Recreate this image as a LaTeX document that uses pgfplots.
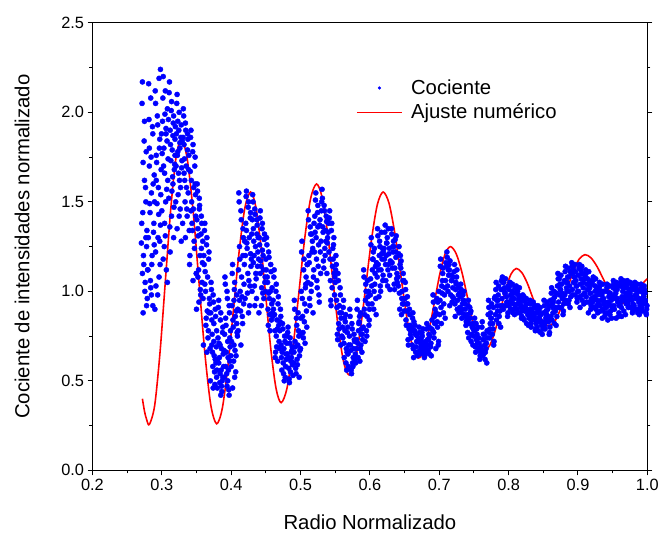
\documentclass[border=0pt]{standalone}
\usepackage{fontspec}
\setmainfont{Liberation Sans}
\usepackage{pgfplots}
\pgfplotsset{compat=1.18}
\definecolor{ptblue}{RGB}{0,0,255}
\definecolor{fitred}{RGB}{255,0,0}
\begin{document}
\begin{tikzpicture}
\begin{axis}[
 name=ax,
 scale only axis, width=558bp, height=450bp,
 xmin=0.2, xmax=1.0, ymin=0, ymax=2.5,
 xtick={0.2,0.3,0.4,0.5,0.6,0.7,0.8,0.9,1.0},
 ytick={0,0.5,1,1.5,2,2.5},
 minor x tick num=1, minor y tick num=1,
 xtick pos=left, ytick pos=both, yticklabel pos=left,
 tick align=outside,
 major tick length=5bp, minor tick length=3bp,
 every tick/.style={black, line width=1bp},
 axis line style={line width=1.2bp},
 /pgf/number format/assume math mode=true,
 xticklabel style={font=\fontsize{16.5}{18}\selectfont, /pgf/number format/fixed, /pgf/number format/fixed zerofill, /pgf/number format/precision=1},
 yticklabel style={font=\fontsize{16.5}{18}\selectfont, /pgf/number format/fixed, /pgf/number format/fixed zerofill, /pgf/number format/precision=1},
 xlabel={Radio Normalizado}, ylabel={Cociente de intensidades normalizado},
 label style={font=\fontsize{20.5}{24}\selectfont},
 xlabel style={at={(axis description cs:0.5,-0.117)}, anchor=center},
 ylabel style={at={(axis description cs:-0.127,0.5)}, anchor=center},
 legend style={draw=none, fill=none, at={(axis description cs:0.47,0.882)}, anchor=north west, font=\fontsize{20.5}{24}\selectfont, row sep=4bp},
 legend cell align=left,
]
\addplot[only marks, mark=*, mark size=2.6bp, color=ptblue,
 legend image code/.code={\path[draw=none,fill=none] (0cm,-0.05cm) rectangle (1.85cm,0.05cm); \fill[ptblue] (0.8cm,0cm) circle (1.4bp);}]
coordinates {
(0.272,2.17) (0.275,1.95) (0.273,1.72) (0.277,1.50) (0.271,1.38) (0.278,1.25) (0.274,1.15) (0.276,1.05) (0.279,0.96) (0.273,0.88) (0.275,1.62) (0.277,1.30) (0.272,1.10) (0.278,0.92)
(0.281,2.16) (0.284,2.08) (0.287,1.88) (0.282,1.80) (0.289,1.65) (0.285,1.55) (0.283,1.44) (0.288,1.33) (0.286,1.20) (0.280,1.12) (0.284,1.02) (0.287,0.92) (0.282,1.70) (0.289,1.26) (0.285,0.98)
(0.298,2.24) (0.296,2.19) (0.291,2.05) (0.294,1.93) (0.297,1.85) (0.292,1.76) (0.299,1.68) (0.295,1.58) (0.293,1.49) (0.298,1.37) (0.291,1.22) (0.296,1.08) (0.294,0.98) (0.290,0.90) (0.297,1.28) (0.292,1.62)
(0.302,2.20) (0.305,2.12) (0.308,2.02) (0.301,1.95) (0.306,1.88) (0.303,1.80) (0.309,1.74) (0.304,1.66) (0.307,1.57) (0.300,1.45) (0.305,1.31) (0.302,1.18) (0.308,1.05) (0.304,1.38) (0.306,1.91)
(0.311,2.17) (0.314,2.06) (0.317,1.98) (0.312,1.90) (0.319,1.85) (0.315,1.79) (0.313,1.73) (0.318,1.68) (0.316,1.60) (0.310,1.52) (0.314,1.42) (0.317,1.30) (0.312,1.22) (0.316,1.87) (0.319,1.76)
(0.322,2.10) (0.325,2.00) (0.328,1.93) (0.321,1.88) (0.326,1.83) (0.323,1.78) (0.329,1.73) (0.324,1.66) (0.327,1.58) (0.320,1.50) (0.325,1.42) (0.322,1.35) (0.328,1.28) (0.326,1.80) (0.323,1.95)
(0.331,2.02) (0.334,1.94) (0.337,1.88) (0.332,1.82) (0.339,1.76) (0.335,1.70) (0.333,1.62) (0.338,1.55) (0.336,1.46) (0.330,1.38) (0.334,1.30) (0.337,1.79) (0.332,1.66)
(0.342,1.90) (0.345,1.82) (0.348,1.75) (0.341,1.67) (0.346,1.58) (0.343,1.50) (0.349,1.42) (0.344,1.34) (0.347,1.24) (0.340,1.15) (0.345,1.06) (0.342,1.45) (0.348,1.60)
(0.351,1.60) (0.354,1.52) (0.357,1.42) (0.352,1.35) (0.359,1.28) (0.355,1.20) (0.353,1.12) (0.358,1.05) (0.356,0.98) (0.350,0.90) (0.354,1.46) (0.357,1.24) (0.352,1.08)
(0.362,1.38) (0.365,1.30) (0.368,1.22) (0.361,1.15) (0.366,1.08) (0.363,1.00) (0.369,0.93) (0.364,0.85) (0.367,0.78) (0.360,0.70) (0.365,0.66) (0.362,1.04) (0.368,0.88)
(0.371,1.05) (0.374,0.98) (0.377,0.90) (0.372,0.84) (0.379,0.78) (0.375,0.72) (0.373,0.66) (0.378,0.60) (0.376,0.55) (0.370,0.50) (0.374,0.46) (0.377,0.62) (0.372,0.70) (0.379,0.52) (0.375,0.82)
(0.382,0.95) (0.385,0.88) (0.388,0.80) (0.381,0.74) (0.386,0.68) (0.383,0.63) (0.389,0.58) (0.384,0.54) (0.387,0.50) (0.380,0.46) (0.385,0.42) (0.382,0.60) (0.388,0.52) (0.384,0.70) (0.386,0.47)
(0.391,1.08) (0.394,1.00) (0.397,0.92) (0.392,0.85) (0.399,0.78) (0.395,0.72) (0.393,0.66) (0.398,0.61) (0.396,0.56) (0.390,0.52) (0.394,0.47) (0.397,0.42) (0.392,0.58) (0.398,0.74) (0.395,0.50)
(0.402,1.15) (0.405,1.05) (0.408,0.98) (0.401,0.92) (0.406,0.86) (0.403,0.80) (0.409,0.75) (0.404,0.70) (0.407,0.64) (0.400,0.58) (0.405,0.52) (0.402,0.46) (0.408,0.82) (0.404,0.95)
(0.411,1.55) (0.414,1.45) (0.417,1.35) (0.412,1.25) (0.419,1.15) (0.415,1.08) (0.413,1.00) (0.418,0.93) (0.416,0.86) (0.410,0.78) (0.414,0.70) (0.417,1.20) (0.412,0.95)
(0.422,1.56) (0.425,1.50) (0.428,1.44) (0.421,1.38) (0.426,1.30) (0.423,1.24) (0.429,1.18) (0.424,1.10) (0.427,1.03) (0.420,0.96) (0.425,0.88) (0.422,1.34) (0.428,1.21)
(0.431,1.54) (0.434,1.46) (0.437,1.40) (0.432,1.35) (0.439,1.30) (0.435,1.25) (0.433,1.20) (0.438,1.14) (0.436,1.07) (0.430,1.00) (0.434,0.92) (0.437,1.32) (0.432,1.16)
(0.442,1.45) (0.445,1.38) (0.448,1.32) (0.441,1.26) (0.446,1.20) (0.443,1.14) (0.449,1.08) (0.444,1.02) (0.447,0.96) (0.440,0.88) (0.445,1.23) (0.442,1.10)
(0.451,1.30) (0.454,1.22) (0.457,1.15) (0.452,1.08) (0.459,1.02) (0.455,0.96) (0.453,0.90) (0.458,0.84) (0.456,0.78) (0.450,1.18) (0.454,0.99)
(0.462,1.12) (0.465,1.04) (0.468,0.97) (0.461,0.90) (0.466,0.84) (0.463,0.78) (0.469,0.72) (0.464,0.66) (0.467,0.61) (0.460,0.86) (0.465,0.75)
(0.471,0.90) (0.474,0.82) (0.477,0.75) (0.472,0.70) (0.479,0.65) (0.475,0.60) (0.473,0.56) (0.478,0.52) (0.476,0.68) (0.470,0.78)
(0.482,0.80) (0.485,0.74) (0.488,0.69) (0.481,0.65) (0.486,0.61) (0.483,0.57) (0.489,0.53) (0.484,0.49) (0.487,0.63) (0.480,0.71)
(0.491,0.95) (0.494,0.85) (0.497,0.78) (0.492,0.72) (0.499,0.67) (0.495,0.62) (0.493,0.57) (0.498,0.52) (0.496,0.70) (0.490,0.60)
(0.502,1.28) (0.505,1.18) (0.508,1.08) (0.501,1.00) (0.506,0.93) (0.503,0.86) (0.509,0.80) (0.504,0.74) (0.507,1.02) (0.500,0.68)
(0.511,1.45) (0.514,1.36) (0.517,1.28) (0.512,1.20) (0.519,1.12) (0.515,1.04) (0.513,0.96) (0.518,0.88) (0.516,1.32) (0.510,1.15)
(0.522,1.55) (0.525,1.48) (0.528,1.40) (0.521,1.33) (0.526,1.26) (0.523,1.18) (0.529,1.10) (0.524,1.02) (0.527,0.94) (0.520,1.22) (0.525,1.36)
(0.531,1.57) (0.534,1.48) (0.537,1.42) (0.532,1.36) (0.539,1.30) (0.535,1.24) (0.533,1.17) (0.538,1.10) (0.536,1.34) (0.530,1.45)
(0.542,1.45) (0.545,1.38) (0.548,1.30) (0.541,1.22) (0.546,1.14) (0.543,1.06) (0.549,0.98) (0.544,0.92) (0.547,1.18) (0.540,1.33)
(0.551,1.20) (0.554,1.10) (0.557,1.02) (0.552,0.95) (0.559,0.88) (0.555,0.82) (0.553,0.76) (0.558,0.70) (0.556,0.92) (0.550,1.05)
(0.562,0.95) (0.565,0.87) (0.568,0.80) (0.561,0.74) (0.566,0.68) (0.563,0.63) (0.569,0.58) (0.564,0.78) (0.567,0.66)
(0.571,0.90) (0.574,0.82) (0.577,0.76) (0.572,0.70) (0.579,0.65) (0.575,0.60) (0.573,0.56) (0.578,0.72) (0.576,0.63)
(0.582,0.95) (0.585,0.86) (0.588,0.79) (0.581,0.73) (0.586,0.68) (0.583,0.63) (0.589,0.76) (0.584,0.82) (0.587,0.70)
(0.591,1.12) (0.594,1.04) (0.597,0.97) (0.592,0.90) (0.599,0.84) (0.595,0.78) (0.593,0.72) (0.598,1.00) (0.596,0.86)
(0.602,1.30) (0.605,1.22) (0.608,1.14) (0.601,1.07) (0.606,1.00) (0.603,0.93) (0.609,0.87) (0.604,1.18) (0.607,1.04)
(0.611,1.35) (0.614,1.28) (0.617,1.21) (0.612,1.15) (0.619,1.09) (0.615,1.03) (0.613,0.97) (0.618,1.24) (0.616,1.12)
(0.622,1.37) (0.625,1.30) (0.628,1.24) (0.621,1.18) (0.626,1.12) (0.623,1.06) (0.629,1.01) (0.624,1.27) (0.627,1.15)
(0.631,1.35) (0.634,1.28) (0.637,1.22) (0.632,1.16) (0.639,1.10) (0.635,1.04) (0.633,1.25) (0.638,1.31) (0.636,1.13)
(0.642,1.25) (0.645,1.17) (0.648,1.10) (0.641,1.03) (0.646,0.96) (0.643,0.90) (0.649,1.06) (0.644,1.20) (0.647,0.93)
(0.651,1.05) (0.654,0.97) (0.657,0.90) (0.652,0.84) (0.659,0.78) (0.655,0.73) (0.653,0.93) (0.658,0.81)
(0.662,0.88) (0.665,0.81) (0.668,0.75) (0.661,0.70) (0.666,0.66) (0.663,0.63) (0.669,0.72) (0.664,0.78)
(0.671,0.80) (0.674,0.74) (0.677,0.70) (0.672,0.67) (0.679,0.64) (0.675,0.77) (0.673,0.71) (0.678,0.66)
(0.682,0.82) (0.685,0.76) (0.688,0.71) (0.681,0.68) (0.686,0.65) (0.683,0.73) (0.689,0.79) (0.684,0.67)
(0.691,0.98) (0.694,0.90) (0.697,0.83) (0.692,0.77) (0.699,0.72) (0.695,0.68) (0.693,0.86) (0.698,0.94)
(0.702,1.18) (0.705,1.10) (0.708,1.02) (0.701,0.95) (0.706,0.88) (0.703,0.82) (0.709,1.06) (0.704,0.99)
(0.711,1.22) (0.714,1.15) (0.717,1.09) (0.712,1.03) (0.719,0.97) (0.715,0.92) (0.713,1.12) (0.718,1.06)
(0.722,1.15) (0.725,1.08) (0.728,1.02) (0.721,0.96) (0.726,0.90) (0.723,0.86) (0.729,0.99) (0.724,1.05)
(0.731,1.04) (0.734,0.98) (0.737,0.93) (0.732,0.88) (0.739,0.83) (0.735,0.95) (0.733,0.90) (0.738,0.86)
(0.742,0.95) (0.745,0.88) (0.748,0.82) (0.741,0.77) (0.746,0.72) (0.743,0.85) (0.749,0.79) (0.744,0.91)
(0.751,0.85) (0.754,0.79) (0.757,0.74) (0.752,0.69) (0.759,0.64) (0.755,0.71) (0.753,0.82) (0.758,0.67)
(0.762,0.83) (0.765,0.76) (0.768,0.71) (0.761,0.67) (0.766,0.62) (0.763,0.73) (0.769,0.78) (0.764,0.65)
(0.771,0.95) (0.774,0.88) (0.777,0.82) (0.772,0.77) (0.779,0.72) (0.775,0.85) (0.773,0.79) (0.778,0.91)
(0.782,1.05) (0.785,0.98) (0.788,0.92) (0.781,0.87) (0.786,0.82) (0.783,0.95) (0.789,1.01) (0.784,0.89)
(0.791,1.08) (0.794,1.02) (0.797,0.97) (0.792,0.92) (0.799,0.88) (0.795,0.99) (0.793,1.05) (0.798,0.94)
(0.802,1.05) (0.805,1.00) (0.808,0.96) (0.801,0.92) (0.806,0.88) (0.803,0.98) (0.809,1.02) (0.804,0.94) (0.807,0.90)
(0.811,1.03) (0.814,0.98) (0.817,0.94) (0.812,0.90) (0.819,0.86) (0.815,0.96) (0.813,1.00) (0.818,0.92) (0.816,0.88)
(0.822,0.97) (0.825,0.93) (0.828,0.89) (0.821,0.85) (0.826,0.82) (0.823,0.91) (0.829,0.87) (0.824,0.95)
(0.831,0.95) (0.834,0.90) (0.837,0.86) (0.832,0.82) (0.839,0.79) (0.835,0.88) (0.833,0.84) (0.838,0.92)
(0.842,0.92) (0.845,0.87) (0.848,0.83) (0.841,0.80) (0.846,0.77) (0.843,0.85) (0.849,0.81) (0.844,0.89)
(0.851,0.95) (0.854,0.89) (0.857,0.85) (0.852,0.81) (0.859,0.77) (0.855,0.87) (0.853,0.83) (0.858,0.92)
(0.862,1.02) (0.865,0.96) (0.868,0.91) (0.861,0.86) (0.866,0.82) (0.863,0.93) (0.869,0.99) (0.864,0.88)
(0.871,1.10) (0.874,1.04) (0.877,0.99) (0.872,0.94) (0.879,0.89) (0.875,1.01) (0.873,1.07) (0.878,0.96) (0.876,0.91)
(0.882,1.14) (0.885,1.08) (0.888,1.03) (0.881,0.98) (0.886,0.93) (0.883,1.05) (0.889,1.11) (0.884,1.00) (0.887,0.95)
(0.891,1.16) (0.894,1.11) (0.897,1.06) (0.892,1.01) (0.899,0.96) (0.895,1.08) (0.893,1.13) (0.898,1.03) (0.896,0.98)
(0.902,1.15) (0.905,1.10) (0.908,1.05) (0.901,1.00) (0.906,0.95) (0.903,0.91) (0.909,1.07) (0.904,1.12) (0.907,0.98)
(0.911,1.12) (0.914,1.07) (0.917,1.02) (0.912,0.97) (0.919,0.92) (0.915,0.88) (0.913,1.04) (0.918,0.99) (0.916,0.94)
(0.922,1.08) (0.925,1.03) (0.928,0.98) (0.921,0.94) (0.926,0.90) (0.923,0.86) (0.929,1.00) (0.924,0.96) (0.927,0.92)
(0.931,1.05) (0.934,1.00) (0.937,0.96) (0.932,0.92) (0.939,0.88) (0.935,0.85) (0.933,0.98) (0.938,0.94) (0.936,0.90)
(0.942,1.04) (0.945,0.99) (0.948,0.95) (0.941,0.91) (0.946,0.87) (0.943,0.84) (0.949,0.97) (0.944,0.93) (0.947,0.89)
(0.951,1.06) (0.954,1.01) (0.957,0.96) (0.952,0.92) (0.959,0.88) (0.955,0.85) (0.953,0.98) (0.958,0.94) (0.956,1.03)
(0.962,1.07) (0.965,1.02) (0.968,0.97) (0.961,0.93) (0.966,0.89) (0.963,0.86) (0.969,0.99) (0.964,0.95) (0.967,1.04)
(0.971,1.06) (0.974,1.01) (0.977,0.97) (0.972,0.93) (0.979,0.89) (0.975,0.99) (0.973,0.95) (0.978,1.03) (0.976,0.91)
(0.982,1.05) (0.985,1.00) (0.988,0.96) (0.981,0.92) (0.986,0.88) (0.983,0.98) (0.989,0.94) (0.984,1.02) (0.987,0.90)
(0.991,1.04) (0.994,0.99) (0.997,0.95) (0.992,0.91) (0.998,0.88) (0.995,0.97) (0.993,0.93) (0.996,1.01) (0.999,0.90)
};
\addlegendentry{Cociente}
\addplot[forget plot, only marks, mark=*, mark size=2.6bp, color=ptblue]
coordinates {
(0.2715,2.05) (0.2745,1.84) (0.2765,1.58) (0.2725,1.44) (0.2785,1.34) (0.2735,1.20) (0.2755,1.00) (0.2775,1.78) (0.2705,1.27) (0.2795,1.12)
(0.2815,1.96) (0.2845,1.75) (0.2875,1.60) (0.2825,1.49) (0.2885,1.38) (0.2855,1.15) (0.2835,1.06) (0.2805,1.30) (0.2865,1.92) (0.2895,1.50)
(0.2905,2.12) (0.2935,1.98) (0.2965,1.80) (0.2925,1.72) (0.2985,1.54) (0.2955,1.43) (0.2945,1.30) (0.2975,1.15) (0.2915,1.03) (0.2995,1.88)
(0.3015,2.08) (0.3045,1.99) (0.3075,1.84) (0.3025,1.70) (0.3085,1.62) (0.3055,1.50) (0.3035,1.25) (0.3065,1.12) (0.3005,1.77) (0.3095,1.96)
(0.3105,2.11) (0.3135,2.01) (0.3165,1.94) (0.3125,1.82) (0.3185,1.71) (0.3155,1.64) (0.3145,1.56) (0.3175,1.47) (0.3115,1.36) (0.3195,1.92)
(0.3215,2.05) (0.3245,1.90) (0.3275,1.86) (0.3225,1.76) (0.3285,1.69) (0.3255,1.62) (0.3235,1.54) (0.3265,1.46) (0.3205,1.70) (0.3295,1.84)
(0.3315,1.98) (0.3345,1.90) (0.3375,1.85) (0.3325,1.74) (0.3385,1.68) (0.3355,1.58) (0.3335,1.50) (0.3365,1.42) (0.3305,1.86) (0.3395,1.34)
(0.3415,1.86) (0.3445,1.78) (0.3475,1.70) (0.3425,1.62) (0.3485,1.54) (0.3455,1.46) (0.3435,1.38) (0.3465,1.28) (0.3405,1.20) (0.3495,1.10)
(0.3515,1.56) (0.3545,1.48) (0.3575,1.38) (0.3525,1.31) (0.3585,1.16) (0.3555,1.01) (0.3535,0.94) (0.3565,1.32) (0.3505,1.40) (0.3595,0.96)
(0.3615,1.34) (0.3645,1.26) (0.3675,1.18) (0.3625,1.11) (0.3685,0.96) (0.3655,0.89) (0.3635,0.81) (0.3665,0.74) (0.3605,1.20) (0.3695,0.68)
(0.3715,1.01) (0.3745,0.94) (0.3775,0.86) (0.3725,0.76) (0.3785,0.69) (0.3755,0.64) (0.3735,0.58) (0.3765,0.48) (0.3705,0.88) (0.3795,0.56)
(0.3815,0.91) (0.3845,0.84) (0.3875,0.77) (0.3825,0.71) (0.3885,0.65) (0.3855,0.56) (0.3835,0.49) (0.3865,0.44) (0.3805,0.62) (0.3895,0.67)
(0.3915,1.04) (0.3945,0.96) (0.3975,0.88) (0.3925,0.81) (0.3985,0.69) (0.3955,0.63) (0.3935,0.54) (0.3965,0.45) (0.3905,0.76) (0.3995,0.64)
(0.4015,1.10) (0.4045,1.01) (0.4075,0.89) (0.4025,0.84) (0.4085,0.77) (0.4055,0.67) (0.4035,0.61) (0.4065,0.55) (0.4005,0.72) (0.4095,0.90)
(0.4115,1.50) (0.4145,1.40) (0.4175,1.30) (0.4125,1.18) (0.4185,1.04) (0.4155,0.97) (0.4135,0.89) (0.4165,0.82) (0.4105,1.12) (0.4195,1.28)
(0.4215,1.53) (0.4245,1.47) (0.4275,1.41) (0.4225,1.27) (0.4285,1.14) (0.4255,1.06) (0.4235,0.99) (0.4265,0.92) (0.4205,1.20) (0.4295,1.32)
(0.4315,1.50) (0.4345,1.43) (0.4375,1.37) (0.4325,1.28) (0.4385,1.22) (0.4355,1.10) (0.4335,1.03) (0.4365,0.96) (0.4305,1.40) (0.4395,1.18)
(0.4415,1.41) (0.4445,1.35) (0.4475,1.29) (0.4425,1.17) (0.4485,1.05) (0.4455,0.99) (0.4435,0.92) (0.4465,1.12) (0.4405,1.30) (0.4495,1.00)
(0.4515,1.26) (0.4545,1.19) (0.4575,1.11) (0.4525,1.05) (0.4585,0.93) (0.4555,0.87) (0.4535,0.81) (0.4565,1.00) (0.4505,1.12) (0.4595,0.88)
(0.4615,1.08) (0.4645,1.00) (0.4675,0.93) (0.4625,0.87) (0.4685,0.81) (0.4655,0.69) (0.4635,0.63) (0.4665,0.79) (0.4605,0.95) (0.4695,0.68)
(0.4715,0.86) (0.4745,0.79) (0.4775,0.72) (0.4725,0.63) (0.4785,0.58) (0.4755,0.54) (0.4735,0.66) (0.4765,0.50) (0.4705,0.83) (0.4795,0.62)
(0.4815,0.77) (0.4845,0.71) (0.4875,0.67) (0.4825,0.63) (0.4885,0.59) (0.4855,0.55) (0.4835,0.51) (0.4865,0.66) (0.4805,0.75) (0.4895,0.60)
(0.4915,0.90) (0.4945,0.81) (0.4975,0.75) (0.4925,0.69) (0.4985,0.64) (0.4955,0.59) (0.4935,0.54) (0.4965,0.88) (0.4905,0.66) (0.4995,0.76)
(0.5015,1.22) (0.5045,1.12) (0.5075,1.04) (0.5025,0.96) (0.5085,0.89) (0.5055,0.83) (0.5035,0.77) (0.5065,0.71) (0.5005,0.85) (0.5095,1.15)
(0.5115,1.40) (0.5145,1.32) (0.5175,1.24) (0.5125,1.16) (0.5185,1.08) (0.5155,1.00) (0.5135,0.92) (0.5165,1.22) (0.5105,1.05) (0.5195,1.38)
(0.5215,1.51) (0.5245,1.44) (0.5275,1.37) (0.5225,1.30) (0.5285,1.22) (0.5255,1.14) (0.5235,1.06) (0.5265,0.98) (0.5205,1.42) (0.5295,1.28)
(0.5315,1.52) (0.5345,1.45) (0.5375,1.39) (0.5325,1.33) (0.5385,1.27) (0.5355,1.20) (0.5335,1.13) (0.5365,1.28) (0.5305,1.50) (0.5395,1.40)
(0.5415,1.41) (0.5445,1.34) (0.5475,1.26) (0.5425,1.18) (0.5485,1.10) (0.5455,1.02) (0.5435,0.95) (0.5465,1.24) (0.5405,1.38) (0.5495,1.08)
(0.5515,1.15) (0.5545,1.06) (0.5575,0.98) (0.5525,0.91) (0.5585,0.85) (0.5555,0.79) (0.5535,0.73) (0.5565,0.88) (0.5505,1.12) (0.5595,0.75)
(0.5615,0.91) (0.5645,0.83) (0.5675,0.77) (0.5625,0.71) (0.5685,0.65) (0.5655,0.60) (0.5635,0.85) (0.5665,0.56) (0.5605,0.80) (0.5695,0.70)
(0.5715,0.86) (0.5745,0.79) (0.5775,0.73) (0.5725,0.67) (0.5785,0.62) (0.5755,0.58) (0.5735,0.54) (0.5765,0.68) (0.5705,0.75) (0.5795,0.60)
(0.5815,0.90) (0.5845,0.83) (0.5875,0.76) (0.5825,0.71) (0.5885,0.66) (0.5855,0.61) (0.5835,0.78) (0.5865,0.88) (0.5805,0.68) (0.5895,0.73)
(0.5915,1.08) (0.5945,1.00) (0.5975,0.93) (0.5925,0.87) (0.5985,0.81) (0.5955,0.75) (0.5935,0.95) (0.5965,1.06) (0.5905,0.80) (0.5995,0.90)
(0.6015,1.26) (0.6045,1.18) (0.6075,1.10) (0.6025,1.03) (0.6085,0.96) (0.6055,0.90) (0.6035,1.12) (0.6065,1.24) (0.6005,0.98) (0.6095,1.16)
(0.6115,1.31) (0.6145,1.25) (0.6175,1.18) (0.6125,1.12) (0.6185,1.06) (0.6155,1.00) (0.6135,1.20) (0.6165,1.33) (0.6105,1.08) (0.6195,1.22)
(0.6215,1.33) (0.6245,1.27) (0.6275,1.21) (0.6225,1.15) (0.6285,1.09) (0.6255,1.03) (0.6235,1.20) (0.6265,1.35) (0.6205,1.24) (0.6295,1.17)
(0.6315,1.32) (0.6345,1.25) (0.6375,1.19) (0.6325,1.13) (0.6385,1.07) (0.6355,1.01) (0.6335,1.22) (0.6365,1.29) (0.6305,1.16) (0.6395,1.05)
(0.6415,1.21) (0.6445,1.13) (0.6475,1.06) (0.6425,0.99) (0.6485,0.93) (0.6455,0.87) (0.6435,1.15) (0.6465,1.00) (0.6405,1.08) (0.6495,0.89)
(0.6515,1.01) (0.6545,0.93) (0.6575,0.87) (0.6525,0.81) (0.6585,0.76) (0.6555,0.70) (0.6535,0.89) (0.6565,0.79) (0.6505,0.96) (0.6595,0.74)
(0.6615,0.85) (0.6645,0.78) (0.6675,0.72) (0.6625,0.68) (0.6685,0.64) (0.6655,0.76) (0.6635,0.83) (0.6665,0.69) (0.6605,0.80) (0.6695,0.66)
(0.6715,0.77) (0.6745,0.72) (0.6775,0.68) (0.6725,0.65) (0.6785,0.63) (0.6755,0.75) (0.6735,0.69) (0.6765,0.79) (0.6705,0.73) (0.6795,0.70)
(0.6815,0.79) (0.6845,0.73) (0.6875,0.69) (0.6825,0.66) (0.6885,0.64) (0.6855,0.80) (0.6835,0.70) (0.6865,0.75) (0.6805,0.72) (0.6895,0.84)
(0.6915,0.94) (0.6945,0.87) (0.6975,0.80) (0.6925,0.74) (0.6985,0.70) (0.6955,0.88) (0.6935,0.82) (0.6965,0.96) (0.6905,0.78) (0.6995,1.00)
(0.7015,1.14) (0.7045,1.06) (0.7075,0.98) (0.7025,0.91) (0.7085,0.85) (0.7055,1.13) (0.7035,1.03) (0.7065,0.93) (0.7005,0.87) (0.7095,1.16)
(0.7115,1.19) (0.7145,1.12) (0.7175,1.06) (0.7125,1.00) (0.7185,0.94) (0.7155,1.17) (0.7135,1.09) (0.7165,0.98) (0.7105,1.14) (0.7195,1.02)
(0.7215,1.11) (0.7245,1.04) (0.7275,0.98) (0.7225,0.93) (0.7285,0.88) (0.7255,1.12) (0.7235,1.01) (0.7265,0.95) (0.7205,1.08) (0.7295,0.91)
(0.7315,1.01) (0.7345,0.95) (0.7375,0.90) (0.7325,0.85) (0.7385,0.81) (0.7355,1.00) (0.7335,0.93) (0.7365,0.87) (0.7305,0.97) (0.7395,0.84)
(0.7415,0.92) (0.7445,0.85) (0.7475,0.80) (0.7425,0.74) (0.7485,0.70) (0.7455,0.89) (0.7435,0.82) (0.7465,0.76) (0.7405,0.87) (0.7495,0.75)
(0.7515,0.82) (0.7545,0.76) (0.7575,0.71) (0.7525,0.66) (0.7585,0.62) (0.7555,0.80) (0.7535,0.73) (0.7565,0.68) (0.7505,0.78) (0.7595,0.66)
(0.7615,0.80) (0.7645,0.73) (0.7675,0.68) (0.7625,0.64) (0.7685,0.60) (0.7655,0.70) (0.7635,0.76) (0.7665,0.66) (0.7605,0.69) (0.7695,0.74)
(0.7715,0.91) (0.7745,0.85) (0.7775,0.79) (0.7725,0.74) (0.7785,0.70) (0.7755,0.93) (0.7735,0.82) (0.7765,0.76) (0.7705,0.87) (0.7795,0.96)
(0.7815,1.01) (0.7845,0.95) (0.7875,0.89) (0.7825,0.84) (0.7885,0.80) (0.7855,1.03) (0.7835,0.92) (0.7865,0.86) (0.7805,0.97) (0.7895,1.06)
(0.7915,1.05) (0.7945,0.99) (0.7975,0.94) (0.7925,0.90) (0.7985,0.86) (0.7955,1.07) (0.7935,1.01) (0.7965,0.92) (0.7905,0.96) (0.7995,1.03)
(0.8015,1.03) (0.8045,0.97) (0.8075,0.93) (0.8025,0.90) (0.8085,0.87) (0.8055,1.04) (0.8035,0.95) (0.8065,0.99) (0.8005,1.01) (0.8095,0.91)
(0.8115,1.01) (0.8145,0.95) (0.8175,0.91) (0.8125,0.88) (0.8185,0.85) (0.8155,1.02) (0.8135,0.93) (0.8165,0.97) (0.8105,0.99) (0.8195,0.89)
(0.8215,0.95) (0.8245,0.91) (0.8275,0.87) (0.8225,0.84) (0.8285,0.81) (0.8255,0.96) (0.8235,0.89) (0.8265,0.93) (0.8205,0.98) (0.8295,0.85)
(0.8315,0.93) (0.8345,0.88) (0.8375,0.84) (0.8325,0.80) (0.8385,0.78) (0.8355,0.94) (0.8335,0.86) (0.8365,0.91) (0.8305,0.90) (0.8395,0.82)
(0.8415,0.90) (0.8445,0.85) (0.8475,0.81) (0.8425,0.78) (0.8485,0.76) (0.8455,0.91) (0.8435,0.83) (0.8465,0.87) (0.8405,0.88) (0.8495,0.79)
(0.8515,0.92) (0.8545,0.87) (0.8575,0.83) (0.8525,0.79) (0.8585,0.76) (0.8555,0.94) (0.8535,0.85) (0.8565,0.90) (0.8505,0.88) (0.8595,0.80)
(0.8615,0.99) (0.8645,0.94) (0.8675,0.89) (0.8625,0.84) (0.8685,0.81) (0.8655,1.00) (0.8635,0.91) (0.8665,0.97) (0.8605,0.95) (0.8695,0.86)
(0.8715,1.07) (0.8745,1.01) (0.8775,0.96) (0.8725,0.91) (0.8785,0.87) (0.8755,1.09) (0.8735,0.98) (0.8765,1.04) (0.8705,1.03) (0.8795,0.93)
(0.8815,1.11) (0.8845,1.05) (0.8875,1.00) (0.8825,0.95) (0.8885,0.91) (0.8855,1.13) (0.8835,1.02) (0.8865,1.08) (0.8805,1.06) (0.8895,0.97)
(0.8915,1.14) (0.8945,1.08) (0.8975,1.03) (0.8925,0.98) (0.8985,0.94) (0.8955,1.15) (0.8935,1.05) (0.8965,1.11) (0.8905,1.10) (0.8995,1.00)
(0.9015,1.13) (0.9045,1.07) (0.9075,1.02) (0.9025,0.97) (0.9085,0.93) (0.9055,1.14) (0.9035,1.04) (0.9065,1.10) (0.9005,1.09) (0.9095,0.99)
(0.9115,1.10) (0.9145,1.04) (0.9175,0.99) (0.9125,0.94) (0.9185,0.90) (0.9155,1.11) (0.9135,1.01) (0.9165,1.06) (0.9105,1.08) (0.9195,0.96)
(0.9215,1.06) (0.9245,1.00) (0.9275,0.95) (0.9225,0.91) (0.9285,0.88) (0.9255,1.07) (0.9235,0.97) (0.9265,1.02) (0.9205,1.04) (0.9295,0.93)
(0.9315,1.03) (0.9345,0.98) (0.9375,0.93) (0.9325,0.89) (0.9385,0.86) (0.9355,1.04) (0.9335,0.95) (0.9365,1.00) (0.9305,1.02) (0.9395,0.91)
(0.9415,1.02) (0.9445,0.97) (0.9475,0.92) (0.9425,0.88) (0.9485,0.85) (0.9455,1.03) (0.9435,0.94) (0.9465,0.99) (0.9405,1.00) (0.9495,0.90)
(0.9515,1.04) (0.9545,0.99) (0.9575,0.94) (0.9525,0.90) (0.9585,0.86) (0.9555,1.05) (0.9535,0.96) (0.9565,1.01) (0.9505,1.02) (0.9595,0.92)
(0.9615,1.05) (0.9645,1.00) (0.9675,0.95) (0.9625,0.91) (0.9685,0.87) (0.9655,1.06) (0.9635,0.97) (0.9665,1.02) (0.9605,1.03) (0.9695,0.93)
(0.9715,1.04) (0.9745,0.99) (0.9775,0.95) (0.9725,0.91) (0.9785,0.88) (0.9755,1.05) (0.9735,0.97) (0.9765,1.01) (0.9705,1.02) (0.9795,0.93)
(0.9815,1.03) (0.9845,0.98) (0.9875,0.94) (0.9825,0.90) (0.9885,0.87) (0.9855,1.04) (0.9835,0.96) (0.9865,1.00) (0.9805,1.01) (0.9895,0.92)
(0.9915,1.02) (0.9945,0.97) (0.9975,0.93) (0.9925,0.89) (0.9985,0.87) (0.9955,1.03) (0.9935,0.95) (0.9965,0.99) (0.9905,1.00) (0.9995,0.92)
};
\addplot[smooth, line width=1.6bp, color=fitred,
 legend image code/.code={\path[draw=none,fill=none] (0cm,-0.05cm) rectangle (1.85cm,0.05cm); \draw[fitred, line width=1bp] (0cm,0cm) -- (1.6cm,0cm);}]
coordinates {
(0.272,0.40) (0.275,0.33) (0.278,0.285) (0.282,0.256)
(0.2897,0.363) (0.2973,0.655) (0.305,1.053) (0.3127,1.452) (0.3203,1.743) (0.328,1.85)
(0.3365,1.743) (0.345,1.453) (0.3535,1.055) (0.362,0.657) (0.3705,0.367) (0.379,0.26)
(0.3872,0.347) (0.3953,0.584) (0.4035,0.908) (0.4117,1.231) (0.4198,1.468) (0.428,1.555)
(0.4353,1.476) (0.4427,1.261) (0.450,0.967) (0.4573,0.672) (0.4647,0.457) (0.472,0.378)
(0.4805,0.460) (0.489,0.684) (0.4975,0.989) (0.506,1.295) (0.5145,1.518) (0.523,1.60)
(0.5308,1.529) (0.5387,1.333) (0.5465,1.067) (0.5543,0.800) (0.5622,0.604) (0.570,0.533)
(0.5782,0.602) (0.5863,0.789) (0.5945,1.044) (0.6027,1.300) (0.6108,1.486) (0.619,1.555)
(0.6275,1.493) (0.636,1.323) (0.6445,1.092) (0.653,0.860) (0.6615,0.690) (0.670,0.628)
(0.6777,0.670) (0.6853,0.784) (0.693,0.939) (0.7007,1.095) (0.7083,1.208) (0.716,1.25)
(0.7243,1.211) (0.7327,1.106) (0.741,0.961) (0.7493,0.817) (0.7577,0.711) (0.766,0.672)
(0.7735,0.703) (0.781,0.786) (0.7885,0.900) (0.796,1.014) (0.8035,1.097) (0.811,1.128)
(0.8188,1.106) (0.8267,1.048) (0.8345,0.967) (0.8423,0.887) (0.8502,0.828) (0.858,0.806)
(0.8667,0.833) (0.8753,0.906) (0.884,1.006) (0.8927,1.105) (0.9013,1.178) (0.910,1.205)
(0.9188,1.187) (0.9277,1.137) (0.9365,1.069) (0.9453,1.001) (0.9542,0.951) (0.963,0.933)
(0.9713,0.944) (0.9797,0.974) (0.988,1.016) (0.997,1.060) (1.0,1.07)
};
\addlegendentry{Ajuste numérico}
\end{axis}
\path ([shift={(-93bp,-63bp)}]ax.south west) rectangle ([shift={(11bp,23bp)}]ax.north east);
\end{tikzpicture}
\end{document}
